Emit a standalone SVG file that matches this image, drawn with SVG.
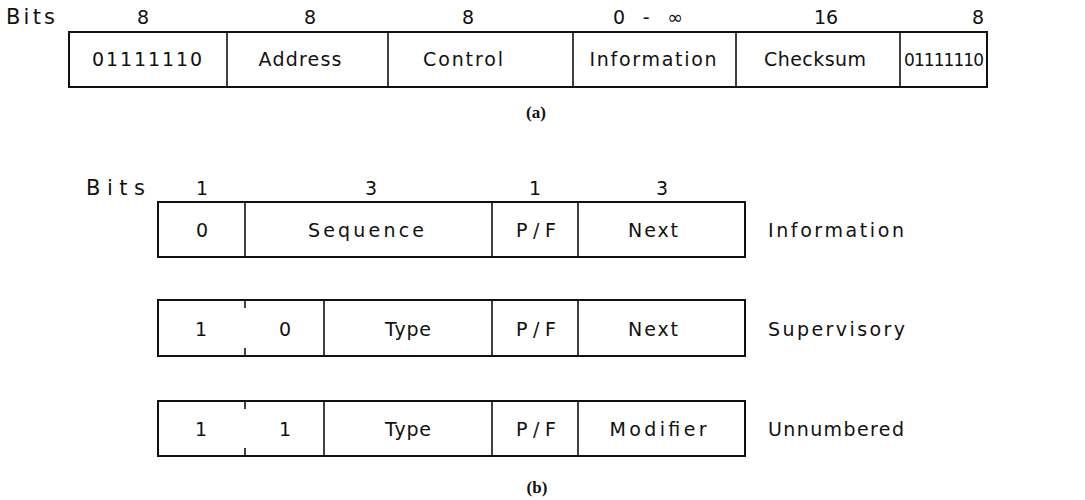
<svg xmlns="http://www.w3.org/2000/svg" width="1085" height="500" viewBox="0 0 1085 500">
<style>
.box{fill:none;stroke:#111;stroke-width:2}
.ln{stroke:#111;stroke-width:1.6}
.t{font-family:"DejaVu Sans","Liberation Sans",sans-serif;font-size:19px;fill:#111;text-anchor:middle}
.l{font-family:"DejaVu Sans","Liberation Sans",sans-serif;font-size:19px;fill:#111}
.d{font-family:"DejaVu Sans","Liberation Sans",sans-serif;font-size:19px;fill:#111;text-anchor:middle}
.cap{font-family:"Liberation Serif","Times New Roman",serif;font-size:17px;font-weight:bold;fill:#111;text-anchor:middle}
</style>
<rect width="1085" height="500" fill="#fff"/>
<g id="frame-a">
<text class="l" x="6" y="24" style="font-size:21px" textLength="49" lengthAdjust="spacing">Bits</text>
<text class="d" x="143" y="24">8</text>
<text class="d" x="310" y="24">8</text>
<text class="d" x="468" y="24">8</text>
<text class="d" x="648" y="24" textLength="70" lengthAdjust="spacing">0 - ∞</text>
<text class="d" x="826" y="24">16</text>
<text class="d" x="978" y="24">8</text>
<rect class="box" x="69" y="32" width="918" height="55"/>
<line class="ln" x1="227" y1="32" x2="227" y2="87"/>
<line class="ln" x1="388" y1="32" x2="388" y2="87"/>
<line class="ln" x1="573" y1="32" x2="573" y2="87"/>
<line class="ln" x1="736" y1="32" x2="736" y2="87"/>
<line class="ln" x1="900" y1="32" x2="900" y2="87"/>
<text class="t" x="147" y="66" textLength="110" lengthAdjust="spacing">01111110</text>
<text class="t" x="300" y="66" textLength="83" lengthAdjust="spacing">Address</text>
<text class="t" x="463" y="66" textLength="80" lengthAdjust="spacing">Control</text>
<text class="t" x="653" y="66" textLength="127" lengthAdjust="spacing">Information</text>
<text class="t" x="815" y="66" textLength="102" lengthAdjust="spacing">Checksum</text>
<text class="t" x="944" y="66" style="font-size:17px" textLength="80" lengthAdjust="spacing">01111110</text>
<text class="cap" x="536" y="118">(a)</text>
</g>
<g id="frame-b-info">
<text class="l" x="86" y="195" style="font-size:21px" textLength="59" lengthAdjust="spacing">Bits</text>
<text class="d" x="202" y="195">1</text>
<text class="d" x="371" y="195">3</text>
<text class="d" x="535" y="195">1</text>
<text class="d" x="662" y="195">3</text>
<rect class="box" x="158" y="202" width="587" height="55"/>
<line class="ln" x1="245" y1="202" x2="245" y2="257"/>
<line class="ln" x1="492" y1="202" x2="492" y2="257"/>
<line class="ln" x1="578" y1="202" x2="578" y2="257"/>
<text class="t" x="202" y="237">0</text>
<text class="t" x="366" y="237" textLength="116" lengthAdjust="spacing">Sequence</text>
<text class="t" x="536" y="237" textLength="40" lengthAdjust="spacing">P/F</text>
<text class="t" x="653" y="237" textLength="50" lengthAdjust="spacing">Next</text>
<text class="l" x="768" y="237" textLength="136" lengthAdjust="spacing">Information</text>
</g>
<g id="frame-b-super">
<rect class="box" x="158" y="300" width="587" height="56"/>
<line class="ln" x1="245" y1="300" x2="245" y2="308"/>
<line class="ln" x1="245" y1="348" x2="245" y2="356"/>
<line class="ln" x1="324" y1="300" x2="324" y2="356"/>
<line class="ln" x1="492" y1="300" x2="492" y2="356"/>
<line class="ln" x1="578" y1="300" x2="578" y2="356"/>
<text class="t" x="201" y="336">1</text>
<text class="t" x="285" y="336">0</text>
<text class="t" x="408" y="336" textLength="46" lengthAdjust="spacing">Type</text>
<text class="t" x="536" y="336" textLength="40" lengthAdjust="spacing">P/F</text>
<text class="t" x="653" y="336" textLength="50" lengthAdjust="spacing">Next</text>
<text class="l" x="768" y="336" textLength="137" lengthAdjust="spacing">Supervisory</text>
</g>
<g id="frame-b-unnum">
<rect class="box" x="158" y="401" width="587" height="55"/>
<line class="ln" x1="245" y1="401" x2="245" y2="409"/>
<line class="ln" x1="245" y1="448" x2="245" y2="456"/>
<line class="ln" x1="324" y1="401" x2="324" y2="456"/>
<line class="ln" x1="492" y1="401" x2="492" y2="456"/>
<line class="ln" x1="578" y1="401" x2="578" y2="456"/>
<text class="t" x="201" y="436">1</text>
<text class="t" x="285" y="436">1</text>
<text class="t" x="408" y="436" textLength="46" lengthAdjust="spacing">Type</text>
<text class="t" x="536" y="436" textLength="40" lengthAdjust="spacing">P/F</text>
<text class="t" x="658" y="436" textLength="97" lengthAdjust="spacing">Modifier</text>
<text class="l" x="768" y="436" textLength="136" lengthAdjust="spacing">Unnumbered</text>
<text class="cap" x="537" y="493">(b)</text>
</g>
<g id="connectors"/>
</svg>
